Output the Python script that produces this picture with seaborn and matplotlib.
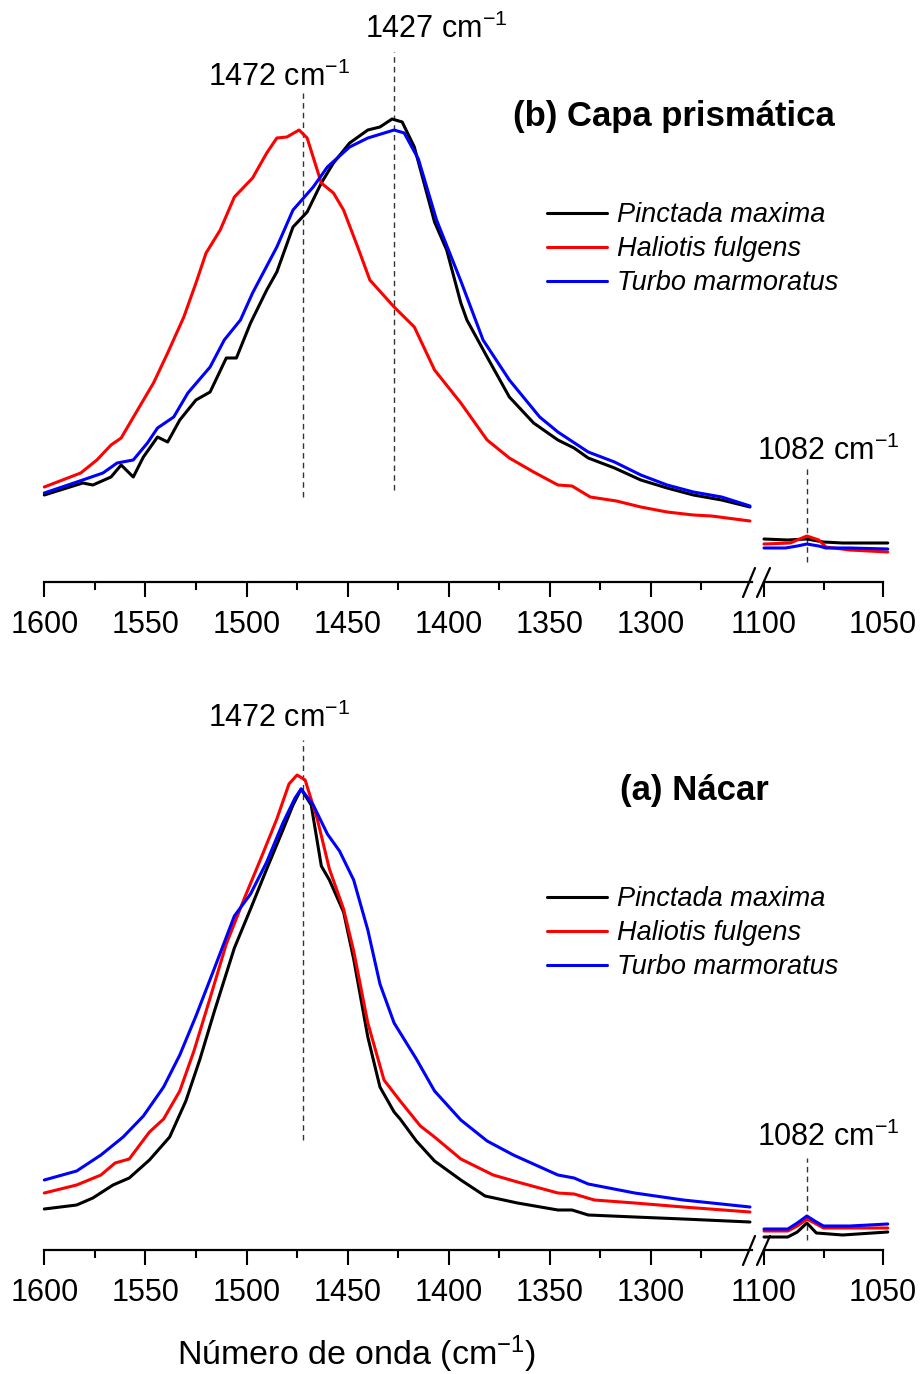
import numpy as np
import pandas as pd
import matplotlib
matplotlib.use("Agg")
import matplotlib.pyplot as plt
import seaborn as sns
from matplotlib.lines import Line2D

# ---------------- data (arbitrary intensity units) ----------------
species = ["Pinctada maxima", "Haliotis fulgens", "Turbo marmoratus"]
colors = ["#000000", "#ff0000", "#0000ff"]

# (b) Capa prismática, 1600-1250 cm-1
wn_b_pm = [1600, 1581, 1576, 1567, 1562, 1556, 1551, 1544, 1539, 1533, 1525, 1518, 1510, 1505, 1498,
           1490, 1485, 1477, 1470, 1463, 1457, 1449, 1440, 1434, 1428, 1423, 1417, 1407, 1401, 1394,
           1391, 1381, 1370, 1358, 1346, 1338, 1331, 1318, 1305, 1292, 1279, 1265, 1251]
ab_b_pm = [0.87, 0.99, 0.97, 1.05, 1.17, 1.05, 1.25, 1.45, 1.40, 1.62, 1.82, 1.90, 2.24, 2.24, 2.59,
           2.92, 3.10, 3.55, 3.70, 3.99, 4.19, 4.39, 4.52, 4.55, 4.63, 4.60, 4.35, 3.60, 3.32, 2.79,
           2.62, 2.25, 1.85, 1.59, 1.42, 1.34, 1.24, 1.14, 1.02, 0.94, 0.87, 0.82, 0.75]
wn_b_hf = [1600, 1582, 1574, 1567, 1562, 1553, 1546, 1539, 1531, 1525, 1520, 1513, 1506, 1497, 1490,
           1485, 1480, 1474, 1470, 1463, 1457, 1452, 1445, 1439, 1427, 1417, 1407, 1394, 1381, 1370,
           1358, 1346, 1339, 1330, 1317, 1305, 1292, 1279, 1270, 1251]
ab_b_hf = [0.95, 1.09, 1.22, 1.37, 1.44, 1.75, 1.99, 2.29, 2.65, 2.99, 3.29, 3.52, 3.85, 4.04, 4.29,
           4.44, 4.45, 4.52, 4.44, 3.99, 3.89, 3.72, 3.35, 3.02, 2.75, 2.55, 2.12, 1.79, 1.42, 1.24,
           1.10, 0.97, 0.96, 0.85, 0.81, 0.75, 0.70, 0.67, 0.66, 0.61]
wn_b_tm = [1600, 1581, 1571, 1564, 1556, 1549, 1544, 1536, 1529, 1518, 1511, 1503, 1497, 1485, 1477,
           1467, 1460, 1449, 1440, 1427, 1422, 1415, 1406, 1394, 1383, 1370, 1355, 1346, 1340, 1331,
           1318, 1305, 1292, 1279, 1265, 1251]
ab_b_tm = [0.89, 1.02, 1.09, 1.19, 1.22, 1.39, 1.54, 1.65, 1.89, 2.15, 2.42, 2.62, 2.89, 3.35, 3.72,
           3.95, 4.15, 4.35, 4.44, 4.52, 4.49, 4.23, 3.62, 3.01, 2.42, 2.02, 1.65, 1.50, 1.42, 1.30,
           1.20, 1.07, 0.97, 0.90, 0.85, 0.76]
# (b) 1100-1050 cm-1
wn_b_pm_r = [1100, 1090, 1082, 1075, 1067, 1048]
ab_b_pm_r = [0.43, 0.42, 0.43, 0.40, 0.39, 0.39]
wn_b_hf_r = [1100, 1089, 1086, 1082, 1077, 1074, 1064, 1048]
ab_b_hf_r = [0.38, 0.39, 0.42, 0.46, 0.42, 0.35, 0.32, 0.30]
wn_b_tm_r = [1100, 1091, 1086, 1082, 1077, 1074, 1064, 1048]
ab_b_tm_r = [0.34, 0.34, 0.36, 0.38, 0.36, 0.34, 0.34, 0.33]

# (a) Nácar, 1600-1250 cm-1
wn_a_pm = [1600, 1584, 1576, 1566, 1558, 1548, 1538, 1530, 1523, 1516, 1506, 1498, 1490, 1482, 1477,
           1473, 1468, 1463, 1459, 1452, 1447, 1440, 1434, 1427, 1424, 1416, 1407, 1394, 1382, 1366,
           1346, 1339, 1331, 1308, 1284, 1251]
ab_a_pm = [0.41, 0.45, 0.52, 0.65, 0.72, 0.90, 1.13, 1.49, 1.91, 2.38, 3.02, 3.41, 3.81, 4.20, 4.45,
           4.61, 4.45, 3.84, 3.70, 3.38, 2.91, 2.13, 1.63, 1.38, 1.31, 1.09, 0.89, 0.70, 0.54, 0.47,
           0.40, 0.40, 0.35, 0.33, 0.31, 0.28]
wn_a_hf = [1600, 1584, 1572, 1565, 1558, 1548, 1541, 1533, 1526, 1518, 1510, 1501, 1493, 1485, 1479,
           1475, 1471, 1465, 1459, 1452, 1447, 1440, 1432, 1424, 1414, 1407, 1394, 1378, 1366, 1346,
           1338, 1328, 1308, 1284, 1251]
ab_a_hf = [0.57, 0.65, 0.75, 0.87, 0.91, 1.18, 1.31, 1.59, 1.99, 2.52, 3.06, 3.52, 3.91, 4.31, 4.66,
           4.75, 4.70, 4.31, 3.81, 3.41, 2.99, 2.27, 1.70, 1.49, 1.24, 1.13, 0.91, 0.75, 0.68, 0.57,
           0.56, 0.50, 0.47, 0.43, 0.38]
wn_a_tm = [1600, 1584, 1572, 1561, 1551, 1541, 1533, 1525, 1516, 1506, 1498, 1490, 1482, 1476, 1473,
           1467, 1460, 1454, 1447, 1440, 1434, 1427, 1416, 1407, 1394, 1381, 1368, 1346, 1338, 1331,
           1308, 1284, 1251]
ab_a_tm = [0.70, 0.79, 0.95, 1.13, 1.34, 1.63, 1.95, 2.34, 2.81, 3.34, 3.56, 3.88, 4.27, 4.52, 4.61,
           4.45, 4.16, 3.99, 3.70, 3.20, 2.66, 2.27, 1.91, 1.59, 1.30, 1.09, 0.95, 0.75, 0.72, 0.66,
           0.57, 0.50, 0.43]
# (a) 1100-1050 cm-1
wn_a_pm_r = [1100, 1090, 1086, 1082, 1078, 1067, 1048]
ab_a_pm_r = [0.13, 0.13, 0.18, 0.27, 0.17, 0.15, 0.18]
wn_a_hf_r = [1100, 1090, 1086, 1082, 1078, 1075, 1064, 1048]
ab_a_hf_r = [0.19, 0.19, 0.24, 0.31, 0.26, 0.22, 0.22, 0.22]
wn_a_tm_r = [1100, 1090, 1086, 1082, 1078, 1075, 1064, 1048]
ab_a_tm_r = [0.21, 0.21, 0.27, 0.34, 0.28, 0.24, 0.24, 0.26]

major_left = [1600, 1550, 1500, 1450, 1400, 1350, 1300]
minor_left = [1575, 1525, 1475, 1425, 1375, 1325, 1275]
major_right = [1100, 1050]
minor_right = [1075]


def frame(wns, abss):
    parts = []
    for sp, w, a in zip(species, wns, abss):
        parts.append(pd.DataFrame({"wn": w, "ab": a, "species": sp}))
    return pd.concat(parts, ignore_index=True)


df_b_left = frame([wn_b_pm, wn_b_hf, wn_b_tm], [ab_b_pm, ab_b_hf, ab_b_tm])
df_b_right = frame([wn_b_pm_r, wn_b_hf_r, wn_b_tm_r], [ab_b_pm_r, ab_b_hf_r, ab_b_tm_r])
df_a_left = frame([wn_a_pm, wn_a_hf, wn_a_tm], [ab_a_pm, ab_a_hf, ab_a_tm])
df_a_right = frame([wn_a_pm_r, wn_a_hf_r, wn_a_tm_r], [ab_a_pm_r, ab_a_hf_r, ab_a_tm_r])

# ---------------- style ----------------
sns.set_style("white")
plt.rcParams["font.family"] = ["Liberation Sans", "DejaVu Sans"]
plt.rcParams["mathtext.fontset"] = "custom"
plt.rcParams["mathtext.rm"] = "Liberation Sans"
plt.rcParams["mathtext.it"] = "Liberation Sans:italic"
plt.rcParams["mathtext.bf"] = "Liberation Sans:bold"
plt.rcParams["text.color"] = "black"
plt.rcParams["axes.labelcolor"] = "black"
plt.rcParams["xtick.color"] = "black"
plt.rcParams["xtick.labelcolor"] = "black"

W, H = 921, 1374
fig = plt.figure(figsize=(W / 100, H / 100), dpi=100)
fig.patch.set_facecolor("white")


def fx(px):
    return px / W


def fy(py):
    return 1 - py / H


palette = dict(zip(species, colors))
LW = 2.2


def make_panel(axis_py, top_py, df_left, df_right, legend):
    b = fy(axis_py)
    h = (axis_py - top_py) / H
    ytop = (axis_py - top_py) / 100
    axL = fig.add_axes([fx(44.3), b, fx(752) - fx(44.3), h])
    axR = fig.add_axes([fx(764), b, fx(883) - fx(764), h])
    sns.lineplot(data=df_left, x="wn", y="ab", hue="species", palette=palette,
                 estimator=None, linewidth=LW, ax=axL, legend=legend)
    sns.lineplot(data=df_right, x="wn", y="ab", hue="species", palette=palette,
                 estimator=None, linewidth=LW, ax=axR, legend=False)
    for ax, xl, mj, mn in [(axL, (1600, 1250), major_left, minor_left),
                           (axR, (1100, 1050), major_right, minor_right)]:
        ax.set_xlim(*xl)
        ax.set_ylim(0, ytop)
        for s in ["left", "right", "top"]:
            ax.spines[s].set_visible(False)
        ax.spines["bottom"].set_linewidth(1.6)
        ax.spines["bottom"].set_color("black")
        ax.set_yticks([])
        ax.set_xticks(mj)
        ax.set_xticks(mn, minor=True)
        ax.tick_params(axis="x", which="major", direction="out", length=11, width=1.5,
                       labelsize=22, pad=9, bottom=True, color="black", labelcolor="black")
        ax.tick_params(axis="x", which="minor", direction="out", length=6, width=1.5,
                       bottom=True, color="black")
        ax.set_xlabel("")
        ax.set_ylabel("")
        ax.patch.set_alpha(0)
        for ln in ax.get_lines():
            ln.set_clip_on(False)
    # break marks
    for x0, x1 in [(743, 755), (757, 770)]:
        fig.add_artist(Line2D([fx(x0), fx(x1)], [fy(axis_py + 15), fy(axis_py - 14)],
                              transform=fig.transFigure, color="black", lw=1.6))
    return axL, axR


def vdash(ax, x, y0, y1):
    ax.plot([x, x], [y0, y1], color="#333333", lw=1.0, ls=(0, (4, 3)), clip_on=False, zorder=1)


def lab(ax, x, y, txt):
    ax.text(x, y, txt + r" cm$^{-1}$", fontsize=22, ha="left", va="baseline", color="black")


# ---- top panel (b) ----
axis_t = 582
bL, bR = make_panel(axis_t, 100, df_b_left, df_b_right, legend=True)
vdash(bL, 1472, (axis_t - 497) / 100, (axis_t - 93) / 100)
vdash(bL, 1427, (axis_t - 490) / 100, (axis_t - 52) / 100)
vdash(bR, 1082, (axis_t - 562) / 100, (axis_t - 465) / 100)
lab(bL, 1519, (axis_t - 86) / 100, "1472")
lab(bL, 1441.4, (axis_t - 38) / 100, "1427")
lab(bR, 1102.9, (axis_t - 460) / 100, "1082")
fig.text(fx(513), fy(126), "(b) Capa prismática", fontsize=25, fontweight="bold",
         ha="left", va="baseline", color="black")

# ---- bottom panel (a) ----
axis_b = 1250
aL, aR = make_panel(axis_b, 700, df_a_left, df_a_right, legend=True)
vdash(aL, 1472, (axis_b - 1140) / 100, (axis_b - 740) / 100)
vdash(aR, 1082, (axis_b - 1240) / 100, (axis_b - 1158) / 100)
lab(aL, 1519, (axis_b - 727) / 100, "1472")
lab(aR, 1102.9, (axis_b - 1146) / 100, "1082")
fig.text(fx(620), fy(800), "(a) Nácar", fontsize=25, fontweight="bold",
         ha="left", va="baseline", color="black")

# legends
for ax, top in [(bL, 202), (aL, 886)]:
    hnd, lbl = ax.get_legend_handles_labels()
    leg = ax.legend(hnd, lbl, loc="upper left", bbox_to_anchor=(fx(547), fy(top)),
                    bbox_transform=fig.transFigure, frameon=False,
                    prop={"style": "italic", "size": 19.5},
                    handlelength=2.2, handletextpad=0.37, labelspacing=0.30,
                    borderpad=0, borderaxespad=0)
    for ln in leg.get_lines():
        ln.set_linewidth(LW)
    for t in leg.get_texts():
        t.set_color("black")

fig.text(fx(356), fy(1365), r"Número de onda (cm$^{-1}$)", fontsize=24.5,
         ha="center", va="baseline", color="black")

fig.savefig("out.png", dpi=100)
